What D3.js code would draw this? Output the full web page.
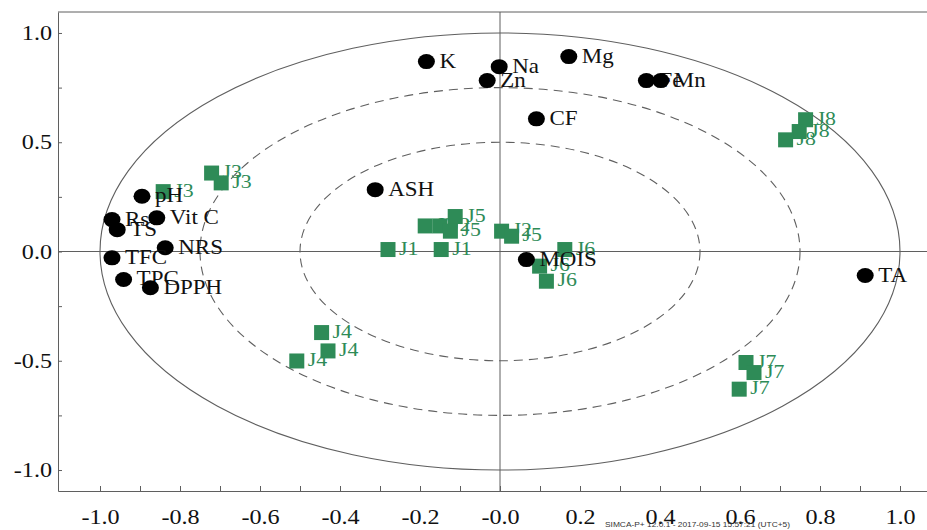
<!DOCTYPE html>
<html>
<head>
<meta charset="utf-8">
<script src="https://cdn.jsdelivr.net/npm/d3@7"></script>
<style>
    body { margin: 0; background: #ffffff; }
    svg text { font-family: "Liberation Serif", "Times New Roman", serif; }
    .stretch { transform-box: fill-box; transform: scaleX(1.15); }
    .from-left { transform-origin: left center; }
    .from-right { transform-origin: right center; }
    .from-mid { transform-origin: center center; }
</style>
</head>
<body>
<div id="canvas"></div>
<script>
"use strict"
let svgWidth = 927;
let svgHeight = 530;

// variables (black dots) - loadings
let varNames = ["K", "Na", "Zn", "Mg", "Fe", "Mn", "CF", "ASH", "MOIS", "TA",
    "pH", "Rs", "TS", "Vit C", "NRS", "TFC", "TPC", "DPPH"];
let varX = [-0.184, -0.002, -0.032, 0.172, 0.366, 0.402, 0.091, -0.312, 0.066, 0.913,
    -0.895, -0.970, -0.957, -0.858, -0.837, -0.970, -0.941, -0.874];
let varY = [0.869, 0.846, 0.782, 0.892, 0.782, 0.782, 0.607, 0.283, -0.037, -0.110,
    0.253, 0.146, 0.100, 0.154, 0.017, -0.029, -0.128, -0.166];

// observations (green squares) - scores
let obsNames = ["J1", "J1", "J2", "J2", "J2", "J5", "J5", "J5",
    "J3", "J3", "J3", "J4", "J4", "J4", "J6", "J6", "J6",
    "J7", "J7", "J7", "J8", "J8", "J8"];
let obsX = [-0.280, -0.147, -0.187, -0.150, 0.004, -0.112, -0.124, 0.029,
    -0.842, -0.721, -0.697, -0.446, -0.430, -0.508, 0.162, 0.099, 0.116,
    0.615, 0.635, 0.598, 0.764, 0.748, 0.714];
let obsY = [0.009, 0.009, 0.117, 0.117, 0.093, 0.160, 0.093, 0.070,
    0.274, 0.359, 0.314, -0.371, -0.455, -0.501, 0.009, -0.067, -0.136,
    -0.508, -0.554, -0.630, 0.603, 0.549, 0.511];

// axis ticks
let xTickValues = [-1.0, -0.9, -0.8, -0.7, -0.6, -0.5, -0.4, -0.3, -0.2, -0.1, 0.0,
    0.1, 0.2, 0.3, 0.4, 0.5, 0.6, 0.7, 0.8, 0.9, 1.0];
let xTickLabels = ["-1.0", "", "-0.8", "", "-0.6", "", "-0.4", "", "-0.2", "", "-0.0",
    "", "0.2", "", "0.4", "", "0.6", "", "0.8", "", "1.0"];
let yTickValues = [-1.0, -0.75, -0.5, -0.25, 0.0, 0.25, 0.5, 0.75, 1.0];
let yTickLabels = ["-1.0", "", "-0.5", "", "0.0", "", "0.5", "", "1.0"];

// circles of explained variance
let radii = [1.0, 0.75, 0.5];

let footer = "SIMCA-P+ 12.0.1 - 2017-09-15 15:57:21 (UTC+5)";

let lineColor = "#5f5f5f";
let green = "#2e8b57";

let svg = d3.select("#canvas")
    .append("svg")
    .attr("width", svgWidth)
    .attr("height", svgHeight);

let plotLeft = 58, plotRight = 928, plotTop = 12, plotBottom = 491;

let xScale = d3.scaleLinear().domain([-1.105, 1.07]).range([plotLeft, plotRight]);
let yScale = d3.scaleLinear().domain([-1.096, 1.096]).range([plotBottom, plotTop]);

//ellipses (unit circle + dashed)
radii.forEach(function(r, i){
    svg.append("ellipse")
        .attr("cx", xScale(0))
        .attr("cy", yScale(0))
        .attr("rx", xScale(r) - xScale(0))
        .attr("ry", yScale(0) - yScale(r))
        .attr("fill", "none")
        .attr("stroke", lineColor)
        .attr("stroke-width", 1.1)
        .attr("stroke-dasharray", i == 0 ? null : "9,6");
});

//top border
svg.append("line")
    .attr("x1", plotLeft).attr("x2", plotRight)
    .attr("y1", plotTop).attr("y2", plotTop)
    .attr("stroke", lineColor);

//zero lines
svg.append("line")
    .attr("x1", plotLeft).attr("x2", plotRight)
    .attr("y1", yScale(0)).attr("y2", yScale(0))
    .attr("stroke", lineColor);
svg.append("line")
    .attr("x1", xScale(0)).attr("x2", xScale(0))
    .attr("y1", plotTop).attr("y2", plotBottom)
    .attr("stroke", lineColor);

//axes
let xAxis = d3.axisBottom(xScale)
    .tickValues(xTickValues)
    .tickFormat(function(d, i){ return xTickLabels[i]; })
    .tickSizeInner(-5)
    .tickSizeOuter(0)
    .tickPadding(18);

let yAxis = d3.axisLeft(yScale)
    .tickValues(yTickValues)
    .tickFormat(function(d, i){ return yTickLabels[i]; })
    .tickSizeInner(-4)
    .tickSizeOuter(0)
    .tickPadding(6);

let gx = svg.append("g")
    .attr("transform", "translate(0," + plotBottom + ")")
    .call(xAxis);
let gy = svg.append("g")
    .attr("transform", "translate(" + plotLeft + ",0)")
    .call(yAxis);

[gx, gy].forEach(function(g){
    g.select(".domain").attr("stroke", lineColor);
    g.selectAll(".tick line").attr("stroke", lineColor);
    g.selectAll(".tick text")
        .attr("fill", "#111")
        .style("font-family", "'Liberation Serif', serif")
        .style("font-size", "21px");
});
gx.selectAll(".tick text").attr("class", "stretch from-mid");
gy.selectAll(".tick text").attr("class", "stretch from-right");

//observations: green squares + labels
let sq = 15;
obsNames.forEach(function(name, i){
    let px = xScale(obsX[i]);
    let py = yScale(obsY[i]);
    svg.append("rect")
        .attr("x", px - sq / 2)
        .attr("y", py - sq / 2)
        .attr("width", sq)
        .attr("height", sq)
        .attr("fill", green);
    svg.append("text")
        .attr("x", px + 11)
        .attr("y", py + 5)
        .attr("class", "stretch from-left")
        .attr("fill", green)
        .style("font-size", "19px")
        .text(name);
});

//variables: black dots + labels
varNames.forEach(function(name, i){
    let px = xScale(varX[i]);
    let py = yScale(varY[i]);
    svg.append("ellipse")
        .attr("cx", px)
        .attr("cy", py)
        .attr("rx", 8.5)
        .attr("ry", 7.5)
        .attr("fill", "#000");
    svg.append("text")
        .attr("x", px + 13)
        .attr("y", py + 6)
        .attr("class", "stretch from-left")
        .attr("fill", "#111")
        .style("font-size", "20px")
        .text(name);
});

//footer stamp
svg.append("text")
    .attr("x", 605)
    .attr("y", 527)
    .attr("textLength", 185)
    .attr("lengthAdjust", "spacingAndGlyphs")
    .style("font-family", "'Liberation Sans', Arial, sans-serif")
    .style("font-size", "8px")
    .attr("fill", "#333")
    .text(footer);
</script>
</body>
</html>
